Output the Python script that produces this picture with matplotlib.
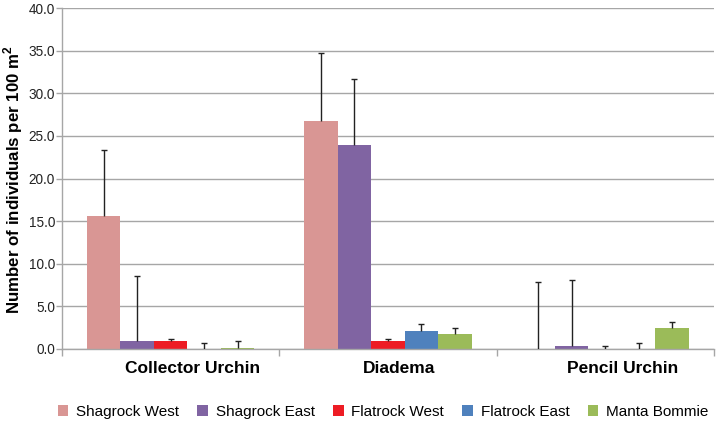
import numpy as np
import matplotlib
matplotlib.use("Agg")
from matplotlib import pyplot as plt
from matplotlib.ticker import MultipleLocator, FixedLocator, NullFormatter


categories = ["Collector Urchin", "Diadema", "Pencil Urchin"]
sites = ["Shagrock West", "Shagrock East", "Flatrock West", "Flatrock East", "Manta Bommie"]
colors = ["#D99694", "#8064A2", "#ED1C24", "#4F81BD", "#9BBB59"]

# mean density per site, one list per site across the three categories
shagrock_west = [15.6, 26.8, 0.0]
shagrock_east = [0.9, 23.9, 0.3]
flatrock_west = [0.9, 0.9, 0.0]
flatrock_east = [0.0, 2.1, 0.0]
manta_bommie = [0.15, 1.8, 2.45]

# top of each error bar
err_top_sw = [23.4, 34.7, 7.8]
err_top_se = [8.6, 31.7, 8.1]
err_top_fw = [1.2, 1.17, 0.3]
err_top_fe = [0.75, 2.9, 0.7]
err_top_mb = [0.9, 2.5, 3.17]

means = [shagrock_west, shagrock_east, flatrock_west, flatrock_east, manta_bommie]
tops = [err_top_sw, err_top_se, err_top_fw, err_top_fe, err_top_mb]

plt.rcParams["font.family"] = ["Liberation Sans", "DejaVu Sans"]

fig = plt.figure(figsize=(7.16, 4.24), dpi=100)
ax = fig.add_axes([0.0866, 0.177, 0.9104, 0.804])

x = np.arange(len(categories))
width = 0.154
grid_col = "#A6A6A6"

for i, (site, vals, top, col) in enumerate(zip(sites, means, tops, colors)):
    vals = np.array(vals)
    upper = np.array(top) - vals
    pos = x + (i - 2) * width
    ax.bar(pos, vals, width, color=col, label=site, zorder=2)
    _, caps, _ = ax.errorbar(pos, vals, yerr=[np.zeros_like(upper), upper], fmt="none",
                             ecolor="#222222", elinewidth=1.0, capsize=2.5,
                             capthick=1.0, zorder=3)
    # only the upper half of the bar is shown, so drop the lower cap
    caps[0].set_visible(False)

ax.set_xlim(-0.5, 2.5)
ax.set_ylim(0, 40)
ax.yaxis.set_major_locator(MultipleLocator(5))
ax.set_yticklabels([f"{v:.1f}" for v in ax.get_yticks()])
ax.yaxis.grid(True, color=grid_col, linewidth=1.0, zorder=0)
ax.set_axisbelow(True)

# tick marks on the group boundaries, labels a little right of centre
ax.xaxis.set_major_locator(FixedLocator([-0.5, 0.5, 1.5, 2.5]))
ax.xaxis.set_major_formatter(NullFormatter())
label_pos = [0.1, 1.05, 2.08]
ax.xaxis.set_minor_locator(FixedLocator(label_pos))
ax.set_xticklabels(categories, minor=True, fontsize=12.5, fontweight="bold")
ax.tick_params(axis="x", which="minor", length=0, pad=9)
ax.tick_params(axis="x", which="major", length=5, color=grid_col, width=1)
ax.tick_params(axis="y", length=4, color=grid_col, width=1, labelsize=9.8, pad=1,
               labelcolor="#222222")

for side in ["top", "right"]:
    ax.spines[side].set_visible(False)
for side in ["left", "bottom"]:
    ax.spines[side].set_color(grid_col)
    ax.spines[side].set_linewidth(1.0)

ax.set_ylabel("Number of individuals per 100 m$^\\mathregular{2}$", fontsize=12.2,
              fontweight="bold")
ax.yaxis.set_label_coords(-0.057, 0.496)

fig.legend(loc="center", bbox_to_anchor=(383 / 716, 1 - 412 / 424), ncol=5,
           frameon=False, fontsize=11, handlelength=0.7, handleheight=0.7,
           handletextpad=0.5, columnspacing=1.2)

fig.savefig("out.png", dpi=100)
